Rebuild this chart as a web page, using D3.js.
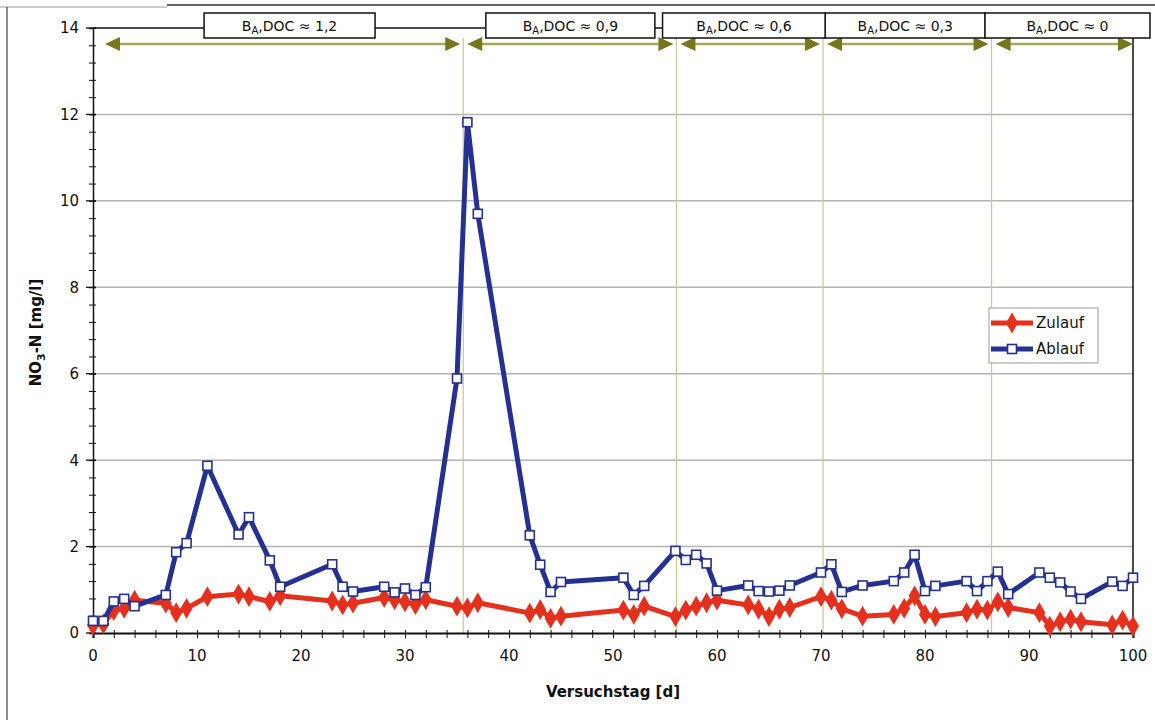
<!DOCTYPE html>
<html>
<head>
<meta charset="utf-8">
<script src="https://cdn.jsdelivr.net/npm/d3@7/dist/d3.min.js"></script>
<style>
  html, body { margin: 0; padding: 0; background: #fff; }
  svg { display: block; font-family: "DejaVu Sans", Verdana, sans-serif; }
</style>
</head>
<body>
<svg id="chart" width="1155" height="720"></svg>
<script>
// NO3-N concentrations in inflow (Zulauf) and outflow (Ablauf) per test day
const days = [0,1,2,3,4,7,8,9,11,14,15,17,18,23,24,25,28,29,30,31,32,35,36,37,42,43,44,45,
  51,52,53,56,57,58,59,60,63,64,65,66,67,70,71,72,74,77,78,79,80,81,84,85,86,87,88,
  91,92,93,94,95,98,99,100];
const zulauf = [0.18,0.21,0.52,0.57,0.76,0.69,0.47,0.57,0.84,0.90,0.84,0.73,0.86,0.74,0.65,0.69,
  0.82,0.77,0.72,0.66,0.77,0.62,0.58,0.70,0.46,0.54,0.34,0.39,
  0.53,0.43,0.62,0.38,0.53,0.62,0.70,0.76,0.65,0.55,0.38,0.55,0.59,0.84,0.76,0.56,
  0.39,0.43,0.57,0.86,0.43,0.38,0.47,0.55,0.53,0.72,0.59,
  0.47,0.16,0.26,0.32,0.26,0.19,0.30,0.16];
const ablauf = [0.28,0.28,0.73,0.79,0.62,0.88,1.87,2.08,3.87,2.28,2.68,1.68,1.07,1.59,1.07,0.96,
  1.07,0.94,1.03,0.88,1.06,5.89,11.82,9.70,2.26,1.58,0.95,1.18,
  1.28,0.88,1.09,1.90,1.69,1.81,1.61,0.98,1.10,0.97,0.96,0.98,1.10,1.40,1.59,0.95,
  1.10,1.20,1.40,1.81,0.97,1.09,1.20,0.97,1.20,1.42,0.90,
  1.40,1.28,1.17,0.96,0.79,1.19,1.09,1.28];

// Test phases with their B_A,DOC ratio
const phaseLabels = ["1,2", "0,9", "0,6", "0,3", "0"];
const phaseBounds = [0, 35.6, 56.1, 70.2, 86.4, 100];

const xTicks = [0,10,20,30,40,50,60,70,80,90,100];
const yTicks = [0,2,4,6,8,10,12,14];

const seriesNames = ["Zulauf", "Ablauf"];

// ---------------- layout ----------------
const svg = d3.select("#chart");
const L = 93, R = 1133, T = 28, B = 633;

const x = d3.scaleLinear().domain([0, 100]).range([L, R]);
const y = d3.scaleLinear().domain([0, 14]).range([B, T]);

const red = "#e5301e", blue = "#243190";
const olive = "#76761e", oliveLine = "#a9a658", sepLine = "#c9c98a";

// outer frame
svg.append("line").attr("x1", 0).attr("x2", 167).attr("y1", 7).attr("y2", 7)
  .attr("stroke", "#bbb").attr("stroke-width", 1.5);
svg.append("line").attr("x1", 167).attr("x2", 1155).attr("y1", 5).attr("y2", 5)
  .attr("stroke", "#333").attr("stroke-width", 1.5);
svg.append("line").attr("x1", 7).attr("x2", 7).attr("y1", 7).attr("y2", 720)
  .attr("stroke", "#444").attr("stroke-width", 1.2);

// horizontal gridlines
svg.append("g").selectAll("line").data(yTicks.filter(v => v > 0 && v < 14)).join("line")
  .attr("x1", L).attr("x2", R).attr("y1", d => y(d)).attr("y2", d => y(d))
  .attr("stroke", "#b4b4b4").attr("stroke-width", 1.5);

// phase separators
svg.append("g").selectAll("line").data(phaseBounds.slice(1, -1)).join("line")
  .attr("x1", d => x(d)).attr("x2", d => x(d)).attr("y1", 38).attr("y2", B)
  .attr("stroke", sepLine).attr("stroke-width", 1.2);

// plot frame: top and right edges
svg.append("line").attr("x1", L).attr("x2", R).attr("y1", T).attr("y2", T)
  .attr("stroke", "#111").attr("stroke-width", 1.5);
svg.append("line").attr("x1", R).attr("x2", R).attr("y1", T).attr("y2", B)
  .attr("stroke", "#111").attr("stroke-width", 1.5);

// y axis
const yAxis = d3.axisLeft(y).tickValues(d3.range(0, 14.01, 0.4)).tickSize(4)
  .tickFormat(() => "");
const gy = svg.append("g").attr("transform", `translate(${L},0)`).call(yAxis);
gy.select(".domain").attr("stroke", "#111").attr("stroke-width", 1.5);
gy.selectAll(".tick line").attr("x2", -4).attr("x1", 3).attr("stroke", "#111");
svg.append("g").selectAll("line").data(yTicks).join("line")
  .attr("x1", L - 7).attr("x2", L + 3).attr("y1", d => y(d)).attr("y2", d => y(d))
  .attr("stroke", "#111").attr("stroke-width", 1.3);
svg.append("g").selectAll("text").data(yTicks).join("text")
  .attr("x", L - 14).attr("y", d => y(d)).attr("dy", "0.36em")
  .attr("text-anchor", "end").attr("font-size", 15).attr("fill", "#111")
  .text(d => d);

// x axis
const xAxis = d3.axisBottom(x).tickValues(d3.range(0, 101, 2)).tickSize(5)
  .tickFormat(() => "");
const gx = svg.append("g").attr("transform", `translate(0,${B})`).call(xAxis);
gx.select(".domain").attr("stroke", "#111").attr("stroke-width", 2.2);
gx.selectAll(".tick line").attr("y1", -3).attr("stroke", "#111");
svg.append("g").selectAll("text").data(xTicks).join("text")
  .attr("x", d => x(d)).attr("y", 661)
  .attr("text-anchor", "middle").attr("font-size", 15).attr("fill", "#111")
  .text(d => d);

// axis titles
svg.append("text").attr("x", (L + R) / 2).attr("y", 697)
  .attr("text-anchor", "middle").attr("font-size", 15).attr("font-weight", "bold")
  .attr("fill", "#111").text("Versuchstag [d]");
const yt = svg.append("text")
  .attr("transform", `translate(41,${(T + B) / 2 + 2}) rotate(-90)`)
  .attr("text-anchor", "middle").attr("font-size", 15).attr("font-weight", "bold")
  .attr("fill", "#111");
yt.append("tspan").text("NO");
yt.append("tspan").attr("font-size", 11).attr("dy", 4).text("3");
yt.append("tspan").attr("dy", -4).text("-N [mg/l]");

// phase arrows
const arrowY = 44;
const phases = phaseLabels.map((lab, i) => ({
  label: lab,
  from: phaseBounds[i],
  to: phaseBounds[i + 1]
}));
const arrowG = svg.append("g");
phases.forEach((p, i) => {
  const x0 = x(p.from) + (i === 0 ? 12 : 4);
  const x1 = x(p.to) - (i === phases.length - 1 ? 0 : 3);
  arrowG.append("line").attr("x1", x0 + 10).attr("x2", x1 - 10)
    .attr("y1", arrowY).attr("y2", arrowY)
    .attr("stroke", oliveLine).attr("stroke-width", 2.5);
  arrowG.append("path")
    .attr("d", `M${x0},${arrowY} L${x0 + 15},${arrowY - 7} L${x0 + 15},${arrowY + 7} Z`)
    .attr("fill", olive);
  arrowG.append("path")
    .attr("d", `M${x1},${arrowY} L${x1 - 15},${arrowY - 7} L${x1 - 15},${arrowY + 7} Z`)
    .attr("fill", olive);
});

// phase label boxes
const boxCentres = [18.9, 45.9, 62.6, 78.1, 93.7];
const boxWidths = [171, 169, 163, 160, 165];
const boxG = svg.append("g");
phases.forEach((p, i) => {
  const cx = x(boxCentres[i]), w = boxWidths[i];
  boxG.append("rect").attr("x", cx - w / 2).attr("y", 13).attr("width", w).attr("height", 25)
    .attr("fill", "#fff").attr("stroke", "#111").attr("stroke-width", 1.5);
  const t = boxG.append("text").attr("x", cx).attr("y", 31)
    .attr("text-anchor", "middle").attr("font-size", 14).attr("fill", "#111");
  t.append("tspan").text("B");
  t.append("tspan").attr("font-size", 10).attr("dy", 3).text("A");
  t.append("tspan").attr("dy", -3).text(",DOC \u2248 " + p.label);
});

// series
const zData = days.map((d, i) => [d, zulauf[i]]);
const aData = days.map((d, i) => [d, ablauf[i]]);
const line = d3.line().x(d => x(d[0])).y(d => y(d[1]));

svg.append("path").datum(zData).attr("d", line)
  .attr("fill", "none").attr("stroke", red).attr("stroke-width", 5)
  .attr("stroke-linejoin", "round");
const diamond = d3.symbol().type(d3.symbolDiamond).size(125);
svg.append("g").selectAll("path").data(zData).join("path")
  .attr("transform", d => `translate(${x(d[0])},${y(d[1])})`)
  .attr("d", diamond).attr("fill", red);

svg.append("path").datum(aData).attr("d", line)
  .attr("fill", "none").attr("stroke", blue).attr("stroke-width", 5)
  .attr("stroke-linejoin", "round");
svg.append("g").selectAll("rect").data(aData).join("rect")
  .attr("x", d => x(d[0]) - 4.5).attr("y", d => y(d[1]) - 4.5)
  .attr("width", 9).attr("height", 9)
  .attr("fill", "#fff").attr("stroke", blue).attr("stroke-width", 1.6);

// legend
const lg = svg.append("g").attr("transform", "translate(989,308)");
lg.append("rect").attr("width", 109).attr("height", 55)
  .attr("fill", "#fff").attr("stroke", "#999").attr("stroke-width", 1);
seriesNames.forEach((name, i) => {
  const ly = 15 + i * 26;
  const col = i === 0 ? red : blue;
  lg.append("line").attr("x1", 2).attr("x2", 44).attr("y1", ly).attr("y2", ly)
    .attr("stroke", col).attr("stroke-width", 5);
  if (i === 0) {
    lg.append("path").attr("transform", `translate(23,${ly})`).attr("d", diamond).attr("fill", red);
  } else {
    lg.append("rect").attr("x", 18.5).attr("y", ly - 4.5).attr("width", 9).attr("height", 9)
      .attr("fill", "#fff").attr("stroke", blue).attr("stroke-width", 1.6);
  }
  lg.append("text").attr("x", 47).attr("y", ly).attr("dy", "0.36em")
    .attr("font-size", 15).attr("fill", "#111").text(name);
});
</script>
</body>
</html>
